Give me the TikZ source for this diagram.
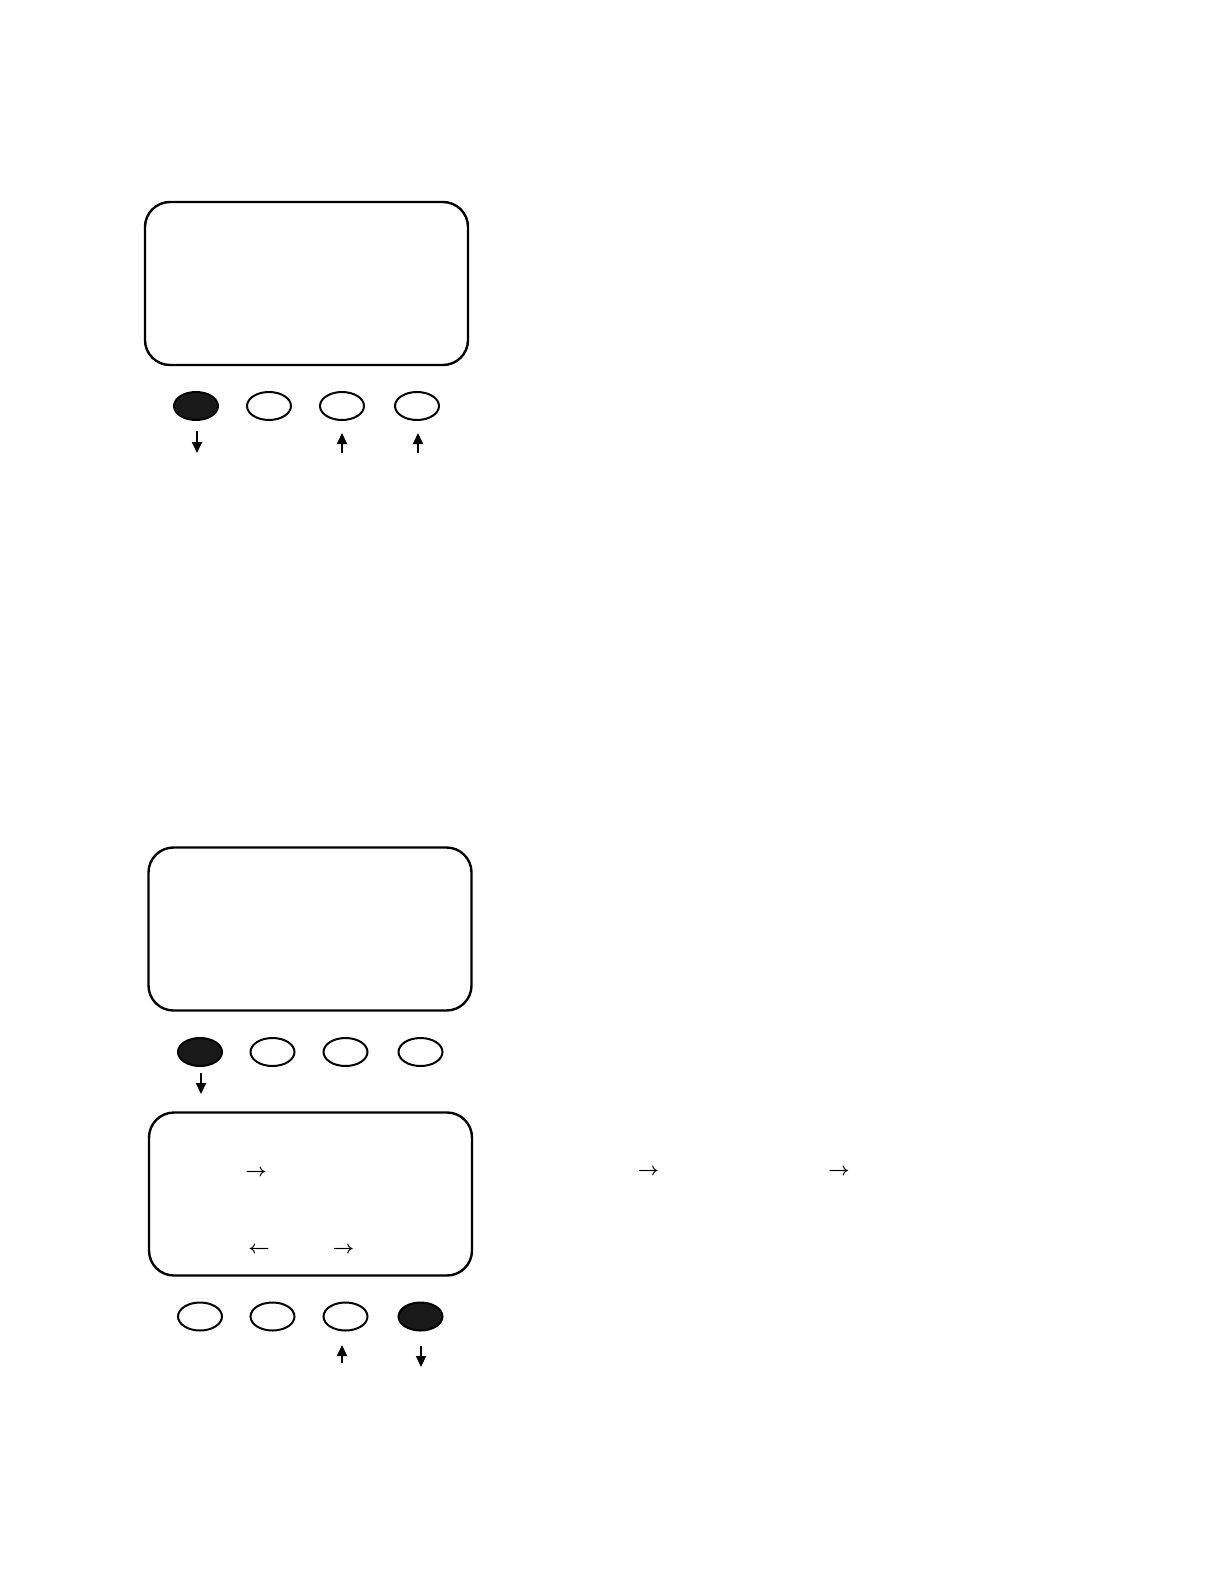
\documentclass[tikz,border=0pt]{standalone}
\usepackage{amsmath,amssymb}
\usepackage{tikz}
\usetikzlibrary{
  arrows.meta,
  positioning,
  shapes.geometric
}

\begin{document}
\begin{tikzpicture}[
  x=0.5pt, y=-0.5pt,
  screen/.style={draw, line width=1.2pt, rounded corners=12.5pt,
                 minimum width=161.5pt, minimum height=81.5pt},
  key/.style={draw, ellipse, line width=1pt, inner sep=0pt,
              minimum width=22pt, minimum height=14pt},
  keyon/.style={key, fill=black!90},
  dnarrow/.style={-{Triangle[length=5.5pt, width=5pt]}, line width=1pt},
  uparrow/.style={{Triangle[length=5.5pt, width=5pt]}-, line width=1pt},
  sym/.style={font=\fontsize{9}{11}\selectfont, inner sep=0pt, anchor=base},
]
  \useasboundingbox (0,0) rectangle (1224,1584);

  % first panel
  \node[screen] (s1) at (306.5, 283.5) {};
  \node[keyon] (s1k1) at (196, 406) {};
  \node[key]   (s1k2) at (269, 406) {};
  \node[key]   (s1k3) at (342, 406) {};
  \node[key]   (s1k4) at (417, 406) {};

  \draw[dnarrow] ([xshift=0.5pt, yshift=-5pt]s1k1.south) -- ++(0,-11pt);
  \draw[uparrow] ([yshift=-6pt]s1k3.south) -- ++(0,-10pt);
  \draw[uparrow] ([xshift=0.5pt, yshift=-6pt]s1k4.south) -- ++(0,-10pt);

  % second panel
  \node[screen] (s2) at (310, 929) {};
  \node[keyon] (s2k1) at (200, 1052) {};
  \node[key]   (s2k2) at (272.5, 1052) {};
  \node[key]   (s2k3) at (345.5, 1052) {};
  \node[key]   (s2k4) at (420.5, 1052) {};

  \draw[dnarrow] ([xshift=0.5pt, yshift=-3pt]s2k1.south) -- ++(0,-10.5pt);

  % third panel
  \node[screen] (s3) at (310.5, 1194) {};
  \node[sym] (s3r1) at (256, 1176.5) {$\boldsymbol{\rightarrow}$};
  \node[sym] (s3l1) at (259, 1253.5) {$\boldsymbol{\leftarrow}$};
  \node[sym] (s3r2) at (343.5, 1253.5) {$\boldsymbol{\rightarrow}$};
  \node[sym] (xr1) at (648.5, 1175.5) {$\boldsymbol{\rightarrow}$};
  \node[sym] (xr2) at (839, 1175.5) {$\boldsymbol{\rightarrow}$};

  \node[key]   (s3k1) at (200, 1316.5) {};
  \node[key]   (s3k2) at (272.5, 1316.5) {};
  \node[key]   (s3k3) at (345.5, 1316.5) {};
  \node[keyon] (s3k4) at (420.5, 1316.5) {};

  \draw[uparrow] ([xshift=-1.75pt, yshift=-6.75pt]s3k3.south) -- ++(0,-9pt);
  \draw[dnarrow] ([xshift=0.25pt, yshift=-7.25pt]s3k4.south) -- ++(0,-10.5pt);
\end{tikzpicture}
\end{document}
